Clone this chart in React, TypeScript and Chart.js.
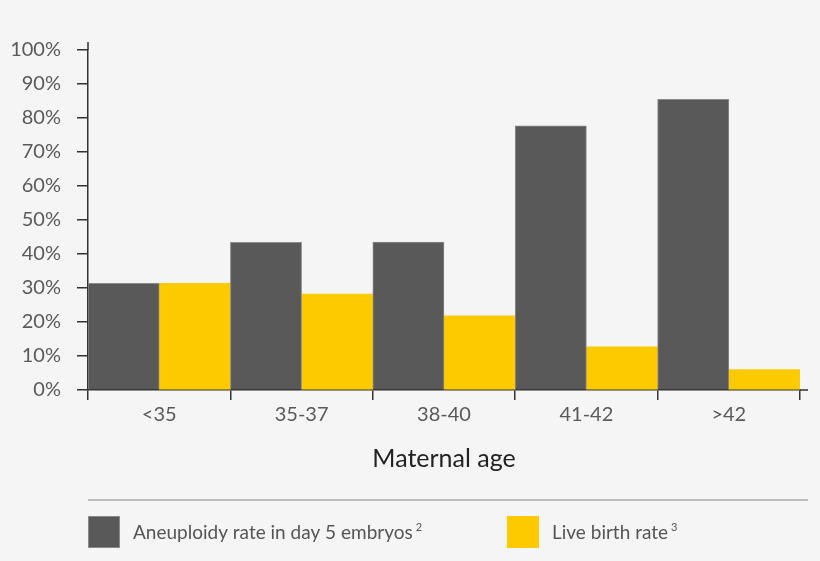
import React, { useEffect, useRef } from 'react';
import { Chart, registerables } from 'chart.js';

Chart.register(...registerables);

// values (percent)
const categories = ['<35', '35-37', '38-40', '41-42', '>42'];
const aneuploidyRate = [31.4, 43.4, 43.5, 77.7, 85.5];
const liveBirthRate = [31.4, 28.2, 21.8, 12.7, 6.0];
const seriesLabels = ['Aneuploidy rate in day 5 embryos', 'Live birth rate'];
const seriesNotes = ['2', '3'];
const xAxisTitle = 'Maternal age';

const GRAY = '#595959';
const YELLOW = '#fdca00';
const BG = '#f5f5f5';
const FONT = 'Lato, "Open Sans", sans-serif';

// background, axis overhangs, axis title, separator and legend
const decorPlugin = {
  id: 'decor',
  beforeDraw(chart: Chart) {
    const ctx = chart.ctx;
    ctx.save();
    ctx.fillStyle = BG;
    ctx.fillRect(0, 0, chart.width, chart.height);
    ctx.restore();
  },
  afterDraw(chart: Chart) {
    const ctx = chart.ctx;
    const { left, right, top, bottom } = chart.chartArea;
    ctx.save();

    // little overhangs of the axis lines
    ctx.strokeStyle = '#333';
    ctx.lineWidth = 1.5;
    ctx.beginPath();
    ctx.moveTo(right, bottom);
    ctx.lineTo(right + 8, bottom);
    ctx.moveTo(left, top);
    ctx.lineTo(left, top - 8);
    ctx.stroke();

    // axis title
    ctx.fillStyle = '#222';
    ctx.font = `400 25px ${FONT}`;
    ctx.textAlign = 'center';
    ctx.textBaseline = 'middle';
    ctx.fillText(xAxisTitle, (left + right) / 2, 459);

    // separator
    ctx.strokeStyle = '#aaaaaa';
    ctx.lineWidth = 1.5;
    ctx.beginPath();
    ctx.moveTo(left, 500);
    ctx.lineTo(right + 8, 500);
    ctx.stroke();

    // legend
    const xs = [left, 507];
    chart.data.datasets.forEach((ds: any, i: number) => {
      const x = xs[i];
      const boxY = 516;
      ctx.fillStyle = ds.backgroundColor;
      ctx.fillRect(x, boxY, 32, 32);
      if (ds.borderWidth) {
        ctx.strokeStyle = ds.borderColor;
        ctx.lineWidth = 1;
        ctx.strokeRect(x + 0.5, boxY + 0.5, 31, 31);
      }
      ctx.fillStyle = '#555';
      ctx.textAlign = 'left';
      ctx.textBaseline = 'alphabetic';
      ctx.font = `400 19px ${FONT}`;
      const tx = x + 45;
      ctx.fillText(ds.label, tx, 539);
      const w = ctx.measureText(ds.label).width;
      ctx.font = `400 11px ${FONT}`;
      ctx.fillText(seriesNotes[i], tx + w + 3, 531);
    });

    ctx.restore();
  },
};

const App: React.FC = () => {
  const canvasRef = useRef<HTMLCanvasElement>(null);

  useEffect(() => {
    document.body.style.margin = '0';
    document.body.style.background = BG;
    const ctx = canvasRef.current?.getContext('2d');
    if (!ctx) return;

    const chart = new Chart(ctx, {
      type: 'bar',
      data: {
        labels: categories,
        datasets: [
          {
            label: seriesLabels[0],
            data: aneuploidyRate,
            backgroundColor: GRAY,
            borderColor: '#8a8a8a',
            borderWidth: 1,
          },
          {
            label: seriesLabels[1],
            data: liveBirthRate,
            backgroundColor: YELLOW,
            borderWidth: 0,
          },
        ],
      },
      options: {
        animation: false,
        responsive: false,
        layout: { padding: { top: 50, right: 20, bottom: 0, left: 0 } },
        datasets: {
          bar: { categoryPercentage: 1, barPercentage: 1 },
        },
        plugins: {
          legend: { display: false },
          tooltip: { enabled: false },
        },
        scales: {
          x: {
            afterFit(scale: any) {
              scale.height = 171;
            },
            grid: {
              display: true,
              drawOnChartArea: false,
              offset: true,
              tickLength: 10,
              color: '#333',
              lineWidth: 1.5,
            },
            border: { color: '#333', width: 1.5 },
            ticks: {
              padding: 3,
              color: '#5a5a5a',
              font: { family: FONT, size: 20, weight: 400 },
            },
          },
          y: {
            min: 0,
            max: 100,
            afterFit(scale: any) {
              scale.width = 88;
            },
            grid: {
              display: true,
              drawOnChartArea: false,
              tickLength: 11,
              color: '#333',
              lineWidth: 1.5,
            },
            border: { color: '#333', width: 1.5 },
            ticks: {
              stepSize: 10,
              padding: 16,
              color: '#5a5a5a',
              font: { family: FONT, size: 20, weight: 400 },
              callback: (v: any) => `${v}%`,
            },
          },
        },
      },
      plugins: [decorPlugin],
    });

    return () => {
      chart.destroy();
    };
  }, []);

  return (
    <div style={{ width: 820, height: 561 }}>
      <canvas ref={canvasRef} width={820} height={561} style={{ display: 'block' }}></canvas>
    </div>
  );
};

export default App;
